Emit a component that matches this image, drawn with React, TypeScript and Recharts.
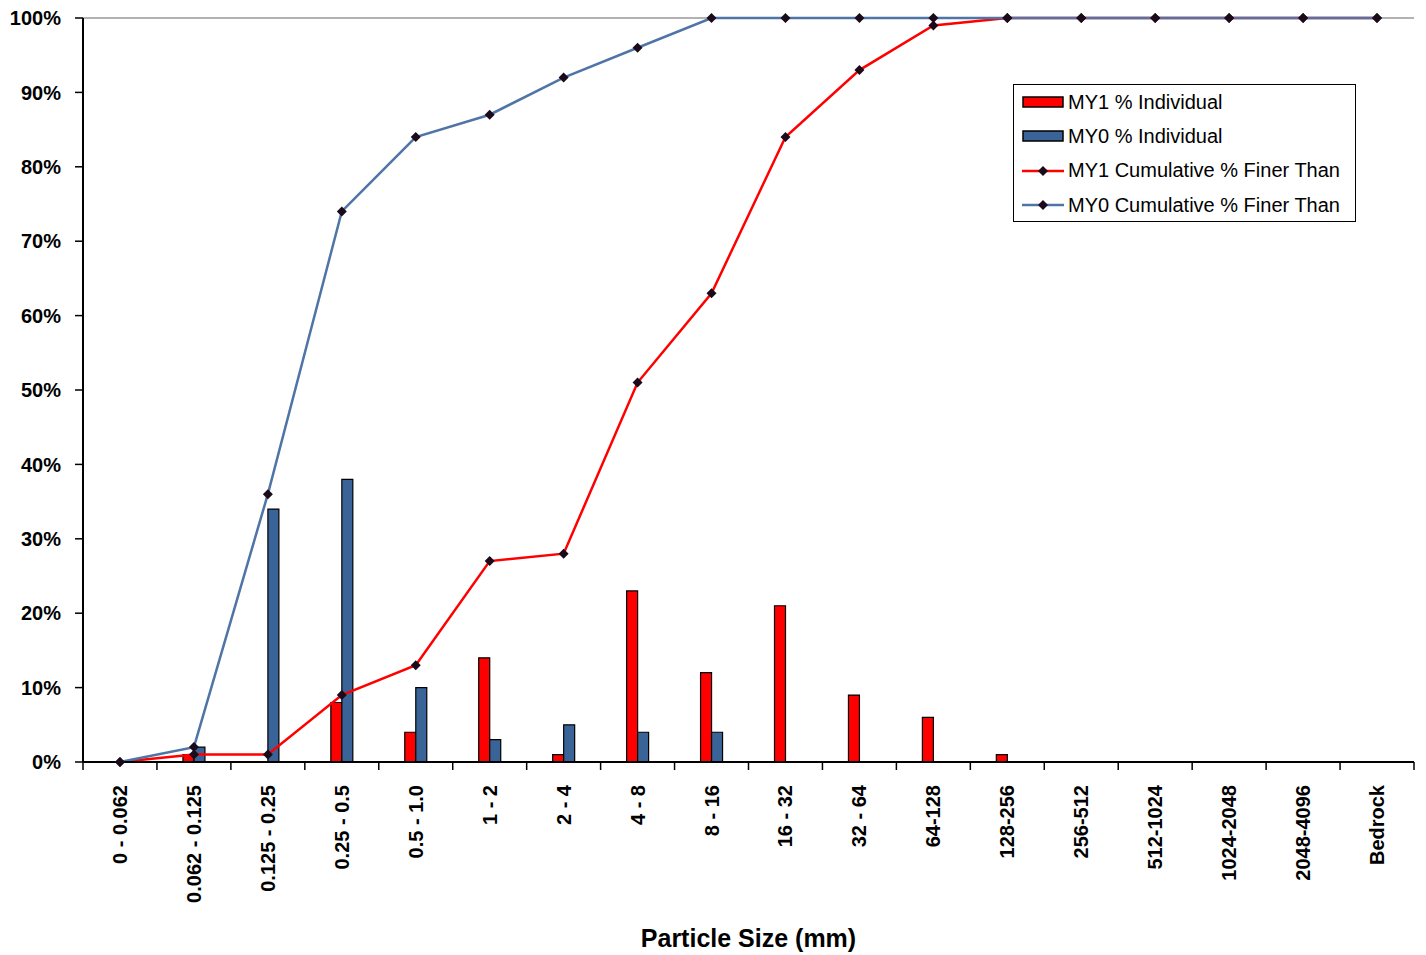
import {
  ComposedChart,
  Bar,
  Line,
  XAxis,
  YAxis,
  Legend,
  ReferenceLine,
} from "recharts";

const categories = [
  "0 - 0.062",
  "0.062 - 0.125",
  "0.125 - 0.25",
  "0.25 - 0.5",
  "0.5 - 1.0",
  "1 - 2",
  "2 - 4",
  "4 - 8",
  "8 - 16",
  "16 - 32",
  "32 - 64",
  "64-128",
  "128-256",
  "256-512",
  "512-1024",
  "1024-2048",
  "2048-4096",
  "Bedrock",
];
const my1Individual = [0, 1, 0, 8, 4, 14, 1, 23, 12, 21, 9, 6, 1, 0, 0, 0, 0, 0];
const my0Individual = [0, 2, 34, 38, 10, 3, 5, 4, 4, 0, 0, 0, 0, 0, 0, 0, 0, 0];
const my1Cumulative = [0, 1, 1, 9, 13, 27, 28, 51, 63, 84, 93, 99, 100, 100, 100, 100, 100, 100];
const my0Cumulative = [0, 2, 36, 74, 84, 87, 92, 96, 100, 100, 100, 100, 100, 100, 100, 100, 100, 100];
const yTicks = [0, 10, 20, 30, 40, 50, 60, 70, 80, 90, 100];

const data = categories.map((size, i) => ({
  size,
  my1: my1Individual[i],
  my0: my0Individual[i],
  my1Cum: my1Cumulative[i],
  my0Cum: my0Cumulative[i],
}));

const FONT = "'Liberation Sans', Arial, sans-serif";
const RED = "#FF0000";
const BLUE_BAR = "#3A6497";
const BLUE_LINE = "#4F74A6";
const MARKER = "#1A0A1A";

const Diamond = (props: any) => {
  const { cx, cy } = props;
  if (cx == null || cy == null) return null;
  const r = 5;
  return (
    <path
      d={`M${cx},${cy - r}L${cx + r},${cy}L${cx},${cy + r}L${cx - r},${cy}Z`}
      fill={MARKER}
    />
  );
};

// label at the category centre, tick marks at the category boundaries
const XTick = (props: any) => {
  const { x, y, payload, index, visibleTicksCount } = props;
  const half = payload.offset ?? 0;
  const axisY = y - 8;
  const last = index === visibleTicksCount - 1;
  return (
    <g>
      <line x1={x - half} x2={x - half} y1={axisY} y2={axisY + 8} stroke="#000" strokeWidth={1.5} />
      {last && (
        <line x1={x + half} x2={x + half} y1={axisY} y2={axisY + 8} stroke="#000" strokeWidth={1.5} />
      )}
      <text
        x={x}
        y={y + 15}
        transform={`rotate(-90, ${x}, ${y + 15})`}
        textAnchor="end"
        dominantBaseline="central"
        fontFamily={FONT}
        fontWeight="bold"
        fontSize={20}
        fill="#000"
      >
        {payload.value}
      </text>
    </g>
  );
};

const legendItems = [
  { label: "MY1 % Individual", kind: "bar", color: RED },
  { label: "MY0 % Individual", kind: "bar", color: BLUE_BAR },
  { label: "MY1 Cumulative % Finer Than", kind: "line", color: RED },
  { label: "MY0 Cumulative % Finer Than", kind: "line", color: BLUE_LINE },
];

const LegendBox = () => (
  <div
    style={{
      border: "1.5px solid #000",
      background: "#fff",
      boxSizing: "border-box",
      width: 343,
      height: 138,
      padding: "0 0 0 8px",
      fontFamily: FONT,
      fontSize: 20,
      color: "#000",
    }}
  >
    {legendItems.map((it) => (
      <div key={it.label} style={{ display: "flex", alignItems: "center", height: 34.3 }}>
        <svg width={46} height={14}>
          {it.kind === "bar" ? (
            <rect x={1} y={2} width={40} height={10} fill={it.color} stroke="#000" strokeWidth={1.5} />
          ) : (
            <g>
              <line x1={0} x2={42} y1={7} y2={7} stroke={it.color} strokeWidth={2.5} />
              <Diamond cx={21} cy={7} />
            </g>
          )}
        </svg>
        <span style={{ whiteSpace: "nowrap" }}>{it.label}</span>
      </div>
    ))}
  </div>
);

export default function App() {
  return (
    <div style={{ width: 1418, height: 947, background: "#fff" }}>
      <ComposedChart
        width={1418}
        height={947}
        data={data}
        margin={{ top: 10, right: 12, left: 5, bottom: 3 }}
        barGap={0}
        barSize={11}
      >
        <XAxis
          dataKey="size"
          height={190}
          axisLine={{ stroke: "#000", strokeWidth: 2 }}
          tickLine={false}
          tickSize={8}
          tickMargin={0}
          interval={0}
          tick={<XTick />}
          label={{
            value: "Particle Size (mm)",
            position: "insideBottom",
            offset: 5,
            fontFamily: FONT,
            fontWeight: "bold",
            fontSize: 25,
            fill: "#000",
          }}
        />
        <YAxis
          yAxisId="left"
          domain={[0, 100]}
          ticks={yTicks}
          width={70}
          interval={0}
          tickFormatter={(v) => `${v}%`}
          axisLine={{ stroke: "#000", strokeWidth: 2 }}
          tickLine={{ stroke: "#000", strokeWidth: 1.5 }}
          tickSize={8}
          tickMargin={14}
          tick={{ fontFamily: FONT, fontWeight: "bold", fontSize: 20, fill: "#000" }}
        />
        <YAxis
          yAxisId="right"
          orientation="right"
          domain={[0, 100]}
          width={0}
          tick={false}
          tickLine={false}
          axisLine={{ stroke: "#999", strokeWidth: 1.5 }}
        />
        <ReferenceLine yAxisId="left" y={100} stroke="#999" strokeWidth={1.5} />
        <Legend
          layout="horizontal"
          verticalAlign="middle"
          align="center"
          wrapperStyle={{ top: 76, left: 1005, width: 343, height: 138 }}
          content={() => <LegendBox />}
        />
        <Bar
          yAxisId="left"
          dataKey="my1"
          name="MY1 % Individual"
          fill={RED}
          stroke="#000"
          strokeWidth={1.2}
          isAnimationActive={false}
        />
        <Bar
          yAxisId="left"
          dataKey="my0"
          name="MY0 % Individual"
          fill={BLUE_BAR}
          stroke="#000"
          strokeWidth={1.2}
          isAnimationActive={false}
        />
        <Line
          yAxisId="left"
          dataKey="my1Cum"
          name="MY1 Cumulative % Finer Than"
          stroke={RED}
          strokeWidth={2.5}
          dot={<Diamond />}
          activeDot={false}
          isAnimationActive={false}
        />
        <Line
          yAxisId="left"
          dataKey="my0Cum"
          name="MY0 Cumulative % Finer Than"
          stroke={BLUE_LINE}
          strokeWidth={2.5}
          dot={<Diamond />}
          activeDot={false}
          isAnimationActive={false}
        />
      </ComposedChart>
    </div>
  );
}
